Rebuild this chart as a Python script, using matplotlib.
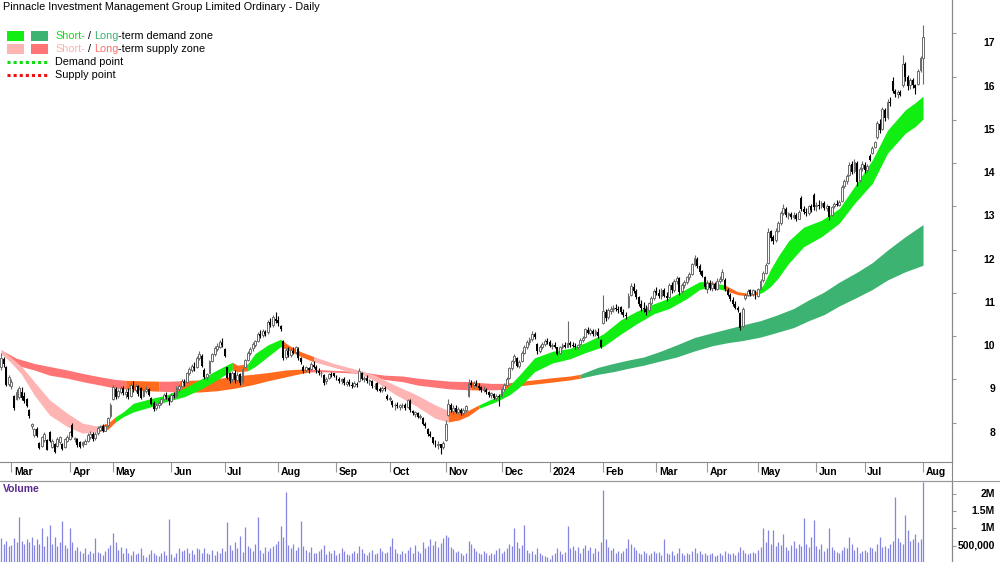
import numpy as np
import pandas as pd
import matplotlib
matplotlib.use("Agg")
import matplotlib.pyplot as plt
from matplotlib.patches import Rectangle
from matplotlib.lines import Line2D
from matplotlib.transforms import blended_transform_factory, offset_copy

plt.rcParams['font.family'] = ['Liberation Sans', 'DejaVu Sans']

title = "Pinnacle Investment Management Group Limited Ordinary - Daily"

# trading days (ASX), Feb 2023 -> Aug 2024
asx_holidays = ['2023-04-07', '2023-04-10', '2023-04-25', '2023-06-12', '2023-12-25', '2023-12-26',
                '2024-01-01', '2024-01-26', '2024-03-29', '2024-04-01', '2024-04-25', '2024-06-10']
dates = pd.bdate_range('2023-02-23', '2024-08-01')
dates = dates[~dates.isin(pd.to_datetime(asx_holidays))]

opens = [
    9.30, 9.48, 9.30, 8.90, 8.85, 8.62, 8.55, 8.60, 8.70, 8.62,
    8.55, 8.30, 7.92, 7.72, 7.85, 7.53, 7.46, 7.60, 7.60, 7.78,
    7.45, 7.52, 7.46, 7.55, 7.52, 7.45, 7.58, 7.62, 7.95, 7.62,
    7.62, 7.55, 7.48, 7.52, 7.58, 7.66, 7.75, 7.64, 7.76, 7.84,
    7.92, 7.82, 7.94, 8.15, 8.55, 8.78, 8.62, 8.70, 8.80, 8.66,
    8.72, 8.62, 8.86, 8.76, 8.84, 8.80, 8.62, 8.74, 8.78, 8.58,
    8.46, 8.34, 8.40, 8.46, 8.55, 8.64, 8.58, 8.50, 8.64, 8.62,
    8.78, 8.86, 8.94, 8.95, 9.14, 9.22, 9.30, 9.28, 9.50, 9.55,
    9.22, 9.05, 9.16, 9.42, 9.58, 9.70, 9.76, 9.84, 9.70, 9.28,
    9.14, 9.00, 9.16, 8.98, 9.12, 8.95, 9.30, 9.46, 9.62, 9.72,
    9.80, 9.90, 10.04, 10.02, 10.10, 10.10, 10.32, 10.26, 10.40, 10.38,
    10.24, 9.90, 9.52, 9.66, 9.56, 9.66, 9.64, 9.70, 9.50, 9.30,
    9.22, 9.26, 9.24, 9.34, 9.30, 9.20, 9.14, 9.10, 8.96, 9.04,
    9.12, 9.14, 9.08, 9.02, 8.96, 9.00, 8.90, 8.94, 8.88, 8.86,
    8.90, 8.96, 9.16, 9.00, 9.04, 8.96, 8.96, 8.84, 8.92, 8.78,
    8.76, 8.80, 8.62, 8.56, 8.50, 8.40, 8.42, 8.36, 8.40, 8.42,
    8.36, 8.50, 8.28, 8.20, 8.22, 8.14, 8.12, 7.98, 7.86, 7.74,
    7.66, 7.54, 7.48, 7.50, 7.44, 7.60, 8.18, 8.42, 8.28, 8.34,
    8.26, 8.30, 8.22, 8.30, 8.62, 8.92, 8.88, 8.90, 8.86, 8.82,
    8.76, 8.76, 8.70, 8.64, 8.66, 8.58, 8.62, 8.62, 8.78, 8.88,
    9.04, 9.26, 9.42, 9.50, 9.32, 9.42, 9.62, 9.74, 9.86, 9.94,
    10.04, 9.82, 9.66, 9.76, 9.82, 9.90, 9.86, 9.78, 9.80, 9.74,
    9.62, 9.74, 9.80, 9.76, 9.84, 9.80, 9.78, 9.76, 9.82, 9.92,
    9.98, 10.14, 10.08, 10.12, 10.04, 10.10, 9.92, 10.30, 10.56, 10.44,
    10.58, 10.64, 10.66, 10.62, 10.68, 10.55, 10.50, 10.68, 10.96, 11.14,
    11.04, 10.90, 10.74, 10.66, 10.62, 10.60, 10.76, 10.88, 11.04, 11.00,
    10.94, 11.06, 10.94, 10.90, 11.18, 11.06, 11.28, 11.34, 11.04, 11.18,
    11.26, 11.36, 11.44, 11.66, 11.78, 11.62, 11.50, 11.36, 11.10, 11.22,
    11.12, 11.20, 11.10, 11.28, 11.32, 11.30, 11.06, 10.96, 10.84, 10.74,
    10.66, 10.54, 10.24, 10.88, 10.96, 11.06, 10.98, 11.04, 10.92, 11.08,
    11.30, 11.46, 11.70, 12.42, 12.30, 12.22, 12.44, 12.62, 12.84, 12.94,
    12.80, 12.82, 12.76, 12.80, 12.72, 13.20, 12.94, 12.88, 12.84, 13.00,
    13.26, 13.00, 13.04, 13.00, 13.08, 12.96, 13.00, 12.80, 13.00, 13.06,
    13.04, 13.12, 13.46, 13.58, 13.72, 13.98, 13.82, 14.00, 13.60, 13.88,
    13.96, 13.84, 14.16, 14.24, 14.38, 14.60, 14.90, 14.80, 15.22, 15.06,
    15.42, 15.90, 15.66, 15.60, 15.64, 15.80, 16.28, 16.00, 15.80, 15.92,
    15.80, 15.82, 16.16, 16.42]

highs = [
    9.62, 9.52, 9.32, 9.10, 9.00, 8.65, 8.78, 8.85, 8.82, 8.70,
    8.58, 8.32, 8.00, 7.88, 7.90, 7.55, 7.70, 7.78, 7.62, 7.80,
    7.62, 7.54, 7.66, 7.70, 7.54, 7.65, 7.72, 7.82, 8.00, 7.68,
    7.64, 7.58, 7.58, 7.62, 7.76, 7.80, 7.78, 7.78, 7.92, 7.94,
    7.98, 7.96, 8.14, 8.45, 8.88, 8.82, 8.78, 8.85, 8.84, 8.78,
    8.80, 8.92, 8.96, 8.90, 8.88, 8.82, 8.78, 8.84, 8.80, 8.60,
    8.50, 8.45, 8.50, 8.58, 8.68, 8.70, 8.62, 8.68, 8.72, 8.84,
    8.90, 9.00, 9.02, 9.18, 9.28, 9.36, 9.40, 9.55, 9.66, 9.58,
    9.26, 9.16, 9.46, 9.62, 9.78, 9.84, 9.92, 9.95, 9.72, 9.30,
    9.18, 9.20, 9.22, 9.18, 9.14, 9.28, 9.48, 9.66, 9.74, 9.86,
    9.92, 10.10, 10.14, 10.16, 10.14, 10.38, 10.42, 10.48, 10.55, 10.46,
    10.26, 9.92, 9.72, 9.74, 9.72, 9.76, 9.78, 9.74, 9.52, 9.34,
    9.32, 9.30, 9.40, 9.42, 9.34, 9.26, 9.20, 9.12, 9.06, 9.16,
    9.18, 9.16, 9.10, 9.06, 9.04, 9.06, 8.98, 9.00, 8.94, 8.96,
    8.94, 9.26, 9.18, 9.08, 9.10, 9.02, 8.98, 8.92, 8.94, 8.82,
    8.84, 8.86, 8.66, 8.62, 8.52, 8.46, 8.48, 8.44, 8.46, 8.46,
    8.56, 8.54, 8.30, 8.28, 8.26, 8.20, 8.14, 8.02, 7.88, 7.82,
    7.68, 7.60, 7.58, 7.52, 7.58, 8.06, 8.54, 8.46, 8.40, 8.42,
    8.36, 8.34, 8.34, 8.40, 9.00, 8.98, 8.96, 8.98, 8.92, 8.86,
    8.84, 8.80, 8.74, 8.72, 8.68, 8.66, 8.66, 8.82, 8.92, 9.06,
    9.30, 9.46, 9.60, 9.52, 9.46, 9.66, 9.80, 9.92, 9.98, 10.12,
    10.10, 9.84, 9.80, 9.86, 9.94, 9.96, 9.92, 9.84, 9.86, 9.76,
    9.78, 9.84, 9.86, 10.36, 9.90, 9.86, 9.84, 9.82, 9.96, 10.00,
    10.20, 10.22, 10.18, 10.16, 10.16, 10.18, 9.94, 10.95, 10.64, 10.66,
    10.70, 10.72, 10.74, 10.70, 10.70, 10.62, 10.56, 11.00, 11.22, 11.24,
    11.08, 10.94, 10.84, 10.80, 10.72, 10.80, 10.92, 11.10, 11.14, 11.10,
    11.12, 11.12, 11.02, 11.22, 11.26, 11.32, 11.40, 11.36, 11.22, 11.30,
    11.40, 11.48, 11.70, 11.88, 11.82, 11.66, 11.54, 11.40, 11.30, 11.30,
    11.28, 11.26, 11.34, 11.40, 11.56, 11.34, 11.12, 11.00, 10.90, 10.82,
    10.70, 10.56, 10.68, 11.00, 11.10, 11.08, 11.10, 11.06, 11.12, 11.32,
    11.50, 11.70, 12.50, 12.46, 12.34, 12.50, 12.66, 12.90, 13.06, 12.98,
    12.88, 12.86, 12.86, 12.84, 12.92, 13.24, 13.00, 12.96, 13.04, 13.06,
    13.30, 13.10, 13.14, 13.12, 13.12, 13.06, 13.02, 13.02, 13.10, 13.14,
    13.14, 13.50, 13.64, 13.76, 14.02, 14.06, 14.10, 14.04, 13.92, 14.04,
    14.02, 13.98, 14.20, 14.40, 14.52, 14.98, 15.02, 15.30, 15.28, 15.48,
    15.52, 15.98, 15.72, 15.70, 15.70, 16.50, 16.34, 16.04, 15.96, 15.96,
    15.84, 16.18, 16.48, 17.20]

lows = [
    9.22, 9.28, 8.85, 8.85, 8.78, 8.30, 8.52, 8.55, 8.52, 8.45,
    8.36, 8.12, 7.85, 7.68, 7.66, 7.40, 7.44, 7.55, 7.36, 7.55,
    7.42, 7.29, 7.44, 7.50, 7.36, 7.42, 7.55, 7.60, 7.66, 7.55,
    7.45, 7.42, 7.44, 7.50, 7.56, 7.62, 7.58, 7.60, 7.72, 7.80,
    7.78, 7.80, 7.90, 8.12, 8.52, 8.55, 8.58, 8.66, 8.64, 8.58,
    8.55, 8.60, 8.72, 8.70, 8.62, 8.55, 8.60, 8.68, 8.62, 8.40,
    8.28, 8.30, 8.34, 8.40, 8.52, 8.56, 8.42, 8.48, 8.58, 8.60,
    8.72, 8.82, 8.86, 8.92, 9.10, 9.18, 9.20, 9.26, 9.44, 9.28,
    9.02, 8.98, 9.14, 9.40, 9.54, 9.66, 9.72, 9.76, 9.52, 9.00,
    8.92, 8.95, 8.92, 8.94, 8.88, 8.92, 9.26, 9.42, 9.56, 9.66,
    9.74, 9.86, 9.96, 9.98, 10.00, 10.06, 10.22, 10.22, 10.30, 10.24,
    10.12, 9.45, 9.48, 9.52, 9.52, 9.58, 9.58, 9.44, 9.36, 9.16,
    9.18, 9.16, 9.22, 9.26, 9.16, 9.10, 9.06, 8.88, 8.90, 9.00,
    9.06, 9.06, 8.98, 8.92, 8.90, 8.88, 8.84, 8.86, 8.80, 8.82,
    8.82, 8.94, 8.98, 8.94, 8.92, 8.88, 8.80, 8.78, 8.74, 8.70,
    8.72, 8.74, 8.52, 8.50, 8.36, 8.30, 8.34, 8.30, 8.34, 8.30,
    8.34, 8.26, 8.18, 8.14, 8.10, 8.08, 7.94, 7.88, 7.70, 7.66,
    7.50, 7.44, 7.40, 7.28, 7.40, 7.58, 8.16, 8.24, 8.20, 8.22,
    8.20, 8.18, 8.18, 8.26, 8.60, 8.82, 8.80, 8.84, 8.76, 8.72,
    8.70, 8.66, 8.60, 8.58, 8.54, 8.52, 8.38, 8.60, 8.74, 8.84,
    9.00, 9.22, 9.38, 9.28, 9.26, 9.40, 9.58, 9.70, 9.80, 9.90,
    9.94, 9.60, 9.62, 9.70, 9.78, 9.82, 9.74, 9.70, 9.72, 9.56,
    9.58, 9.70, 9.72, 9.74, 9.76, 9.74, 9.70, 9.70, 9.80, 9.86,
    9.96, 10.04, 10.02, 10.00, 10.00, 9.96, 9.72, 10.28, 10.36, 10.40,
    10.52, 10.56, 10.58, 10.54, 10.52, 10.44, 10.40, 10.66, 10.92, 11.00,
    10.86, 10.70, 10.58, 10.56, 10.50, 10.56, 10.72, 10.84, 10.96, 10.88,
    10.86, 10.90, 10.82, 10.88, 11.00, 11.02, 11.20, 10.96, 11.00, 11.12,
    11.20, 11.30, 11.42, 11.62, 11.58, 11.44, 11.36, 11.10, 11.00, 11.06,
    11.04, 11.06, 11.06, 11.22, 11.28, 11.04, 10.92, 10.82, 10.70, 10.62,
    10.56, 10.14, 10.22, 10.84, 10.92, 10.94, 10.94, 10.86, 10.90, 11.06,
    11.26, 11.44, 11.68, 12.20, 12.14, 12.18, 12.40, 12.58, 12.80, 12.76,
    12.70, 12.72, 12.70, 12.66, 12.70, 12.90, 12.82, 12.78, 12.80, 12.86,
    12.92, 12.90, 12.94, 12.96, 12.92, 12.90, 12.68, 12.78, 12.96, 13.00,
    13.00, 13.10, 13.42, 13.52, 13.70, 13.74, 13.78, 13.46, 13.56, 13.82,
    13.78, 13.80, 14.04, 14.20, 14.34, 14.56, 14.70, 14.76, 14.98, 15.02,
    15.32, 15.62, 15.52, 15.50, 15.54, 15.76, 15.90, 15.70, 15.72, 15.74,
    15.60, 15.80, 16.10, 15.84]

closes = [
    9.50, 9.35, 8.88, 9.05, 8.95, 8.35, 8.72, 8.80, 8.58, 8.50,
    8.38, 8.15, 7.96, 7.85, 7.70, 7.42, 7.66, 7.74, 7.38, 7.58,
    7.58, 7.32, 7.62, 7.66, 7.40, 7.62, 7.68, 7.78, 7.70, 7.64,
    7.48, 7.45, 7.55, 7.58, 7.72, 7.75, 7.62, 7.74, 7.88, 7.90,
    7.82, 7.92, 8.10, 8.40, 8.82, 8.60, 8.74, 8.80, 8.68, 8.72,
    8.60, 8.88, 8.78, 8.86, 8.66, 8.58, 8.75, 8.78, 8.64, 8.44,
    8.32, 8.42, 8.46, 8.54, 8.64, 8.60, 8.50, 8.64, 8.62, 8.80,
    8.86, 8.96, 8.92, 9.15, 9.25, 9.32, 9.26, 9.50, 9.60, 9.32,
    9.06, 9.12, 9.42, 9.58, 9.72, 9.78, 9.86, 9.80, 9.55, 9.04,
    8.96, 9.16, 8.98, 9.10, 8.92, 9.24, 9.44, 9.62, 9.70, 9.82,
    9.88, 10.06, 10.00, 10.12, 10.04, 10.34, 10.26, 10.44, 10.36, 10.30,
    10.16, 9.50, 9.68, 9.56, 9.68, 9.62, 9.74, 9.50, 9.40, 9.20,
    9.28, 9.22, 9.36, 9.30, 9.22, 9.14, 9.16, 8.92, 9.02, 9.12,
    9.10, 9.08, 9.04, 8.96, 9.00, 8.92, 8.94, 8.90, 8.86, 8.92,
    8.88, 9.20, 9.02, 9.04, 8.96, 8.98, 8.84, 8.86, 8.76, 8.74,
    8.80, 8.78, 8.56, 8.58, 8.40, 8.42, 8.38, 8.40, 8.42, 8.34,
    8.52, 8.30, 8.22, 8.24, 8.14, 8.16, 7.98, 7.92, 7.74, 7.70,
    7.54, 7.48, 7.52, 7.42, 7.54, 7.98, 8.44, 8.30, 8.34, 8.26,
    8.32, 8.22, 8.30, 8.38, 8.92, 8.88, 8.92, 8.86, 8.80, 8.76,
    8.78, 8.70, 8.64, 8.68, 8.58, 8.62, 8.60, 8.78, 8.88, 9.02,
    9.26, 9.42, 9.55, 9.32, 9.40, 9.62, 9.74, 9.86, 9.94, 10.06,
    9.98, 9.66, 9.76, 9.82, 9.90, 9.86, 9.78, 9.80, 9.74, 9.60,
    9.74, 9.80, 9.76, 9.84, 9.80, 9.78, 9.76, 9.80, 9.92, 9.96,
    10.16, 10.08, 10.14, 10.04, 10.12, 10.00, 9.76, 10.58, 10.42, 10.60,
    10.64, 10.66, 10.62, 10.60, 10.55, 10.50, 10.46, 10.94, 11.16, 11.04,
    10.90, 10.74, 10.66, 10.62, 10.56, 10.76, 10.88, 11.04, 11.00, 10.94,
    11.06, 10.94, 10.88, 11.18, 11.06, 11.28, 11.34, 11.02, 11.18, 11.26,
    11.36, 11.44, 11.66, 11.80, 11.62, 11.48, 11.40, 11.14, 11.24, 11.12,
    11.20, 11.10, 11.28, 11.32, 11.48, 11.08, 10.96, 10.86, 10.74, 10.66,
    10.60, 10.20, 10.62, 10.96, 11.04, 10.98, 11.06, 10.90, 11.08, 11.28,
    11.46, 11.64, 12.40, 12.26, 12.20, 12.44, 12.62, 12.84, 12.96, 12.80,
    12.84, 12.76, 12.80, 12.72, 12.88, 12.94, 12.88, 12.84, 13.00, 12.92,
    12.98, 13.04, 13.00, 13.08, 12.96, 13.02, 12.76, 12.98, 13.06, 13.04,
    13.10, 13.44, 13.58, 13.70, 13.96, 13.80, 14.02, 13.56, 13.86, 13.98,
    13.84, 13.94, 14.08, 14.36, 14.48, 14.92, 14.76, 15.24, 15.04, 15.42,
    15.40, 15.66, 15.60, 15.64, 15.58, 16.30, 15.98, 15.78, 15.92, 15.80,
    15.74, 16.14, 16.44, 16.92]

# volume in thousands of shares
volume_k = [
    720, 560, 640, 480, 520, 730, 600, 1320, 640, 560,
    700, 620, 760, 520, 680, 560, 1000, 480, 780, 1100,
    560, 740, 480, 620, 1200, 520, 440, 1000, 620, 380,
    460, 340, 300, 420, 260, 360, 300, 720, 320, 280,
    240, 360, 420, 520, 880, 600, 380, 460, 300, 420,
    280, 220, 340, 260, 300, 420, 240, 180, 260, 380,
    300, 240, 200, 280, 340, 220, 1260, 260, 180, 300,
    420, 340, 380, 420, 300, 380, 260, 440, 400, 300,
    420, 300, 260, 380, 220, 360, 300, 420, 360, 1180,
    520, 380, 620, 440, 780, 320, 1050, 500, 420, 340,
    560, 1320, 380, 300, 460, 360, 420, 480, 560, 640,
    1080, 760, 2050, 520, 440, 560, 380, 460, 1220, 500,
    380, 320, 460, 300, 280, 360, 400, 520, 260, 340,
    300, 380, 240, 300, 420, 360, 260, 220, 300, 340,
    280, 480, 400, 300, 240, 320, 380, 260, 300, 420,
    360, 280, 320, 480, 720, 400, 300, 260, 340, 280,
    380, 460, 300, 520, 360, 280, 600, 420, 480, 700,
    520, 640, 460, 580, 720, 820, 760, 460, 400, 320,
    360, 280, 240, 300, 640, 560, 420, 360, 300, 260,
    340, 280, 220, 300, 260, 380, 440, 300, 360, 420,
    560, 480, 1000, 620, 440, 520, 1100, 380, 300, 340,
    260, 420, 300, 240, 200, 160, 120, 220, 300, 420,
    360, 260, 320, 1080, 420, 500, 380, 460, 300, 420,
    530, 380, 460, 300, 420, 360, 600, 2100, 700, 460,
    380, 420, 300, 360, 280, 340, 420, 700, 560, 460,
    380, 300, 260, 340, 300, 240, 300, 360, 280, 320,
    240, 700, 300, 260, 340, 220, 280, 420, 300, 240,
    300, 260, 360, 420, 300, 340, 260, 300, 220, 260,
    280, 200, 240, 300, 220, 360, 280, 260, 300, 240,
    320, 460, 380, 300, 260, 280, 320, 300, 380, 460,
    1000, 620, 960, 540, 940, 480, 600, 520, 850, 460,
    380, 520, 640, 420, 560, 480, 1300, 560, 460, 750,
    1250, 480, 400, 560, 340, 420, 1000, 460, 380, 320,
    300, 380, 460, 420, 750, 540, 380, 460, 300, 340,
    380, 320, 460, 420, 360, 540, 750, 460, 500, 420,
    560, 640, 1900, 720, 600, 560, 1400, 950, 640, 700,
    850, 600, 680, 2350]

# short-term zone edges (bar index, two edges)
short_idx = [0, 4, 8, 13, 19, 26, 32, 38, 42, 45, 48, 52, 59, 65, 72, 78, 85, 91, 93, 97,
             100, 105, 110, 113, 118, 123, 131, 138, 142, 147, 155, 163, 171, 176, 180, 184, 188, 195, 200, 204,
             210, 217, 224, 230, 237, 244, 250, 257, 263, 270, 275, 278, 282, 285, 290, 294, 298, 300, 303, 306,
             310, 316, 323, 330, 336, 343, 349, 356, 360, 363]
short_a = [9.70, 9.50, 9.30, 8.95, 8.53, 8.22, 7.99, 7.92, 7.99, 8.14,
           8.25, 8.45, 8.56, 8.64, 8.80, 8.99, 9.22, 9.40, 9.33, 9.36,
           9.60, 9.80, 9.93, 9.80, 9.64, 9.53, 9.37, 9.26, 9.20, 9.10,
           8.87, 8.66, 8.41, 8.28, 8.26, 8.29, 8.41, 8.60, 8.85, 9.10,
           9.50, 9.65, 9.72, 9.85, 10.05, 10.38, 10.57, 10.75, 10.88, 11.10,
           11.26, 11.26, 11.22, 11.18, 11.03, 10.99, 11.04, 11.18, 11.55, 11.85,
           12.20, 12.52, 12.68, 12.95, 13.46, 14.07, 14.76, 15.23, 15.40, 15.55]
short_b = [9.60, 9.38, 9.12, 8.64, 8.18, 7.91, 7.76, 7.79, 7.85, 8.02,
           8.14, 8.25, 8.37, 8.49, 8.60, 8.76, 8.99, 9.22, 9.18, 9.20,
           9.30, 9.53, 9.76, 9.68, 9.53, 9.41, 9.28, 9.16, 9.12, 8.97,
           8.66, 8.40, 8.10, 8.02, 8.06, 8.16, 8.33, 8.49, 8.64, 8.82,
           9.18, 9.38, 9.48, 9.62, 9.76, 10.05, 10.28, 10.52, 10.64, 10.87,
           11.08, 11.12, 11.10, 11.06, 10.96, 10.93, 10.97, 11.02, 11.15, 11.35,
           11.68, 12.07, 12.30, 12.61, 13.07, 13.53, 14.23, 14.69, 14.85, 15.02]

# long-term zone edges
long_idx = [0, 6, 13, 19, 26, 32, 39, 45, 49, 55, 62, 66, 70, 78, 85, 92, 99, 105, 112, 118,
            121, 125, 131, 138, 142, 151, 158, 164, 171, 177, 185, 188, 193, 198, 205, 211, 217, 224, 228, 235,
            241, 247, 253, 259, 266, 273, 280, 286, 292, 299, 305, 312, 318, 324, 330, 337, 343, 349, 356, 363]
long_a = [9.68, 9.49, 9.37, 9.30, 9.22, 9.14, 9.06, 9.00, 8.98, 8.97,
          8.96, 8.96, 8.97, 8.99, 9.02, 9.08, 9.12, 9.16, 9.22, 9.24,
          9.24, 9.23, 9.21, 9.19, 9.17, 9.10, 9.08, 9.03, 8.99, 8.96,
          8.95, 8.93, 8.91, 8.91, 8.96, 9.00, 9.04, 9.08, 9.12, 9.28,
          9.37, 9.45, 9.52, 9.64, 9.80, 9.97, 10.08, 10.17, 10.26, 10.36,
          10.48, 10.64, 10.84, 11.02, 11.25, 11.48, 11.70, 11.99, 12.30, 12.58]
long_b = [9.60, 9.33, 9.22, 9.10, 9.03, 8.95, 8.87, 8.80, 8.78, 8.75,
          8.73, 8.72, 8.71, 8.71, 8.74, 8.80, 8.88, 8.97, 9.06, 9.14,
          9.17, 9.18, 9.17, 9.15, 9.13, 9.00, 8.95, 8.87, 8.82, 8.78,
          8.76, 8.76, 8.76, 8.77, 8.86, 8.90, 8.94, 8.99, 9.03, 9.12,
          9.18, 9.26, 9.33, 9.42, 9.52, 9.66, 9.78, 9.85, 9.90, 9.98,
          10.08, 10.20, 10.36, 10.50, 10.70, 10.90, 11.08, 11.30, 11.49, 11.64]

# zone state per stretch of bars: demand / supply / neutral
short_zones = [(0, 38, 'sup'), (38, 45, 'neu'), (45, 91, 'dem'), (91, 97, 'neu'), (97, 110, 'dem'),
               (110, 123, 'neu'), (123, 176, 'sup'), (176, 188, 'neu'), (188, 278, 'dem'), (278, 282, 'neu'),
               (282, 285, 'dem'), (285, 298, 'neu'), (298, 363, 'dem')]
long_zones = [(0, 49, 'sup'), (49, 62, 'neu'), (62, 70, 'sup'), (70, 121, 'neu'), (121, 185, 'sup'),
              (185, 188, 'neu'), (188, 198, 'sup'), (198, 228, 'neu'), (228, 363, 'dem')]

short_colors = {'dem': '#11ee11', 'sup': '#ffb4b4', 'neu': '#ff6a1c'}
long_colors = {'dem': '#3cb371', 'sup': '#ff7474', 'neu': '#ff6a1c'}

W, H = 1000, 562
FS = 7.8
fig = plt.figure(figsize=(W / 100, H / 100), dpi=100)
ax = fig.add_axes([0, 100 / H, 952 / W, 462 / H])
axv = fig.add_axes([0, 0, 952 / W, 81 / H])

o = np.array(opens); h = np.array(highs); l = np.array(lows); c = np.array(closes)
x = np.arange(len(c))
xmax = 374.4


def draw_zones(a_x, ea, eb, zones, colors, z):
    a_x = np.array(a_x); ea = np.array(ea); eb = np.array(eb)
    for s, e, st in zones:
        m = (a_x >= s) & (a_x <= e)
        ax.fill_between(a_x[m], ea[m], eb[m], color=colors[st], lw=0, zorder=z)


draw_zones(long_idx, long_a, long_b, long_zones, long_colors, 1)
draw_zones(short_idx, short_a, short_b, short_zones, short_colors, 2)

# candles
up = c >= o
ax.vlines(x[up], l[up], h[up], color='#6a6a6a', lw=0.8, zorder=3)
ax.vlines(x[~up], l[~up], h[~up], color='black', lw=0.8, zorder=3)
ax.bar(x[up], c[up] - o[up], bottom=o[up], width=0.75, facecolor='white',
       edgecolor='#6a6a6a', lw=0.7, zorder=4)
ax.bar(x[~up], o[~up] - c[~up], bottom=c[~up], width=0.75, color='black', lw=0, zorder=4)

ax.set_xlim(-0.5, xmax)
ax.set_ylim(7.093, 17.77)
for sp in ['left', 'top']:
    ax.spines[sp].set_visible(False)
ax.spines['right'].set_color('#888888')
ax.spines['bottom'].set_color('#888888')

# month ticks
month_pos = [i for i in range(1, len(dates)) if dates[i].month != dates[i - 1].month]
ax.set_xticks(month_pos)
ax.set_xticklabels([])
ax.tick_params(axis='x', direction='out', length=7, color='#999999', width=0.8)
tb = blended_transform_factory(ax.transData, ax.transAxes)
for i in month_pos:
    lab = '2024' if dates[i].month == 1 else dates[i].strftime('%b')
    ax.text(i + 1.0, -10 / 462, lab, transform=tb, ha='left', va='center',
            fontsize=7.5, fontweight='bold')

# price axis on the right
ax.yaxis.tick_right()
ax.set_yticks(range(8, 18))
ax.set_yticklabels([])
ax.tick_params(axis='y', direction='out', length=3, color='#999999')
ty = offset_copy(blended_transform_factory(ax.transAxes, ax.transData), fig=fig, y=-10, units='dots')
for v in range(8, 18):
    ax.text(995 / 952, v, str(v), transform=ty, ha='right', va='center', fontsize=7.5, fontweight='bold')

# volume
vol = np.array(volume_k) * 1000
axv.vlines(x, 0, vol, color='#8585e0', lw=0.9)
axv.set_xlim(-0.5, xmax)
axv.set_ylim(28900, 2.37e6)
axv.set_xticks([])
axv.yaxis.tick_right()
axv.set_yticks([5e5, 1e6, 1.5e6, 2e6])
axv.set_yticklabels([])
axv.tick_params(axis='y', direction='out', length=3, color='#999999')
for sp in ['left', 'bottom']:
    axv.spines[sp].set_visible(False)
axv.spines['right'].set_color('#888888')
axv.spines['top'].set_color('#888888')
tv = blended_transform_factory(axv.transAxes, axv.transData)
for v, s in [(2e6, '2M'), (1.5e6, '1.5M'), (1e6, '1M'), (5e5, '500,000')]:
    axv.text(995 / 952, v, s, transform=tv, ha='right', va='center', fontsize=7.5, fontweight='bold')
fig.text(3 / W, 1 - 489 / H, 'Volume', color='#5b2a8c', fontsize=7.5, fontweight='bold', va='center')

# frame lines
fig.add_artist(Line2D([952 / W, 952 / W], [0, 1], color='#888888', lw=0.8))
fig.add_artist(Line2D([0, 1], [1 - 481 / H] * 2, color='#999999', lw=0.8))

# title and legend
fig.text(3 / W, 1 - 7 / H, title, fontsize=FS, va='center')

renderer = fig.canvas.get_renderer()


def width_px(s):
    t = fig.text(0, 0, s, fontsize=FS)
    w = t.get_window_extent(renderer=renderer).width
    t.remove()
    return w


def legend_row(y, parts):
    x0 = 55.0
    full = ''
    for txt, col in parts:
        n = len(txt) - len(txt.lstrip())
        prefix = full + txt[:n]
        lead = width_px(prefix + 'X') - width_px('X') if prefix else 0
        fig.text((x0 + lead) / W, 1 - y / H, txt.strip(), color=col, fontsize=FS, va='center')
        full += txt


legend_row(36, [('Short-', '#11dd11'), (' /', 'black'), (' Long', '#3cb371'), ('-term demand zone', 'black')])
legend_row(49, [('Short-', '#ffb0b0'), (' /', 'black'), (' Long', '#ff6e6e'), ('-term supply zone', 'black')])
legend_row(62, [('Demand point', 'black')])
legend_row(75, [('Supply point', 'black')])

fig.add_artist(Rectangle((7 / W, 1 - 41 / H), 17 / W, 10 / H, color='#11ee11', lw=0))
fig.add_artist(Rectangle((31 / W, 1 - 41 / H), 17 / W, 10 / H, color='#3cb371', lw=0))
fig.add_artist(Rectangle((7 / W, 1 - 54 / H), 17 / W, 10 / H, color='#ffb4b4', lw=0))
fig.add_artist(Rectangle((31 / W, 1 - 54 / H), 17 / W, 10 / H, color='#ff7474', lw=0))
fig.add_artist(Line2D([7 / W, 48 / W], [1 - 62 / H] * 2, color='#11dd11', lw=2.2, ls=(0, (1, 1))))
fig.add_artist(Line2D([7 / W, 48 / W], [1 - 75 / H] * 2, color='#ee1111', lw=2.2, ls=(0, (1, 1))))

fig.savefig('out.png', dpi=100)
